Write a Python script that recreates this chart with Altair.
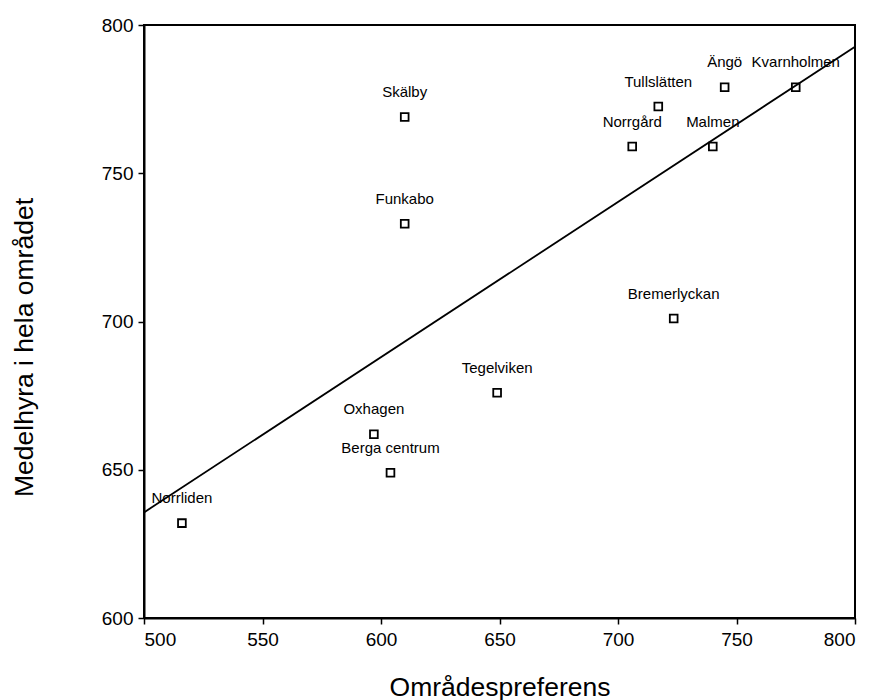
import altair as alt
import pandas as pd

names = ["Norrliden", "Oxhagen", "Berga centrum", "Tegelviken", "Funkabo", "Skälby",
         "Bremerlyckan", "Tullslätten", "Ängö", "Kvarnholmen", "Norrgård", "Malmen"]
preferens = [516, 597, 604, 649, 610, 610, 723.5, 717, 745, 775, 706, 740]
medelhyra = [632, 662, 649, 676, 733, 769, 701, 772.5, 779, 779, 759, 759]

df = pd.DataFrame({"name": names, "x": preferens, "y": medelhyra})

font = "Liberation Sans"

xs = alt.Scale(domain=[500, 800], nice=False, zero=False)
ys = alt.Scale(domain=[600, 800], nice=False, zero=False)

x_axis = alt.Axis(values=[500, 550, 600, 650, 700, 750, 800], grid=False,
                  domain=True, domainColor="black", domainWidth=2,
                  ticks=True, tickColor="black", tickWidth=1.5, tickSize=6,
                  labelFont=font, labelFontSize=19, labelColor="black", labelPadding=6,
                  title="Områdespreferens", titleFont=font, titleFontSize=26.5,
                  titleFontWeight="normal", titleColor="black",
                  titleBaseline="middle", titleY=69)
y_axis = alt.Axis(values=[600, 650, 700, 750, 800], grid=False,
                  domain=True, domainColor="black", domainWidth=2,
                  ticks=True, tickColor="black", tickWidth=1.5, tickSize=6,
                  labelFont=font, labelFontSize=19, labelColor="black", labelPadding=5,
                  title="Medelhyra i hela området", titleFont=font, titleFontSize=26.5,
                  titleFontWeight="normal", titleColor="black",
                  titleBaseline="middle", titleX=-120, titleY=322, titleAngle=270)

base = alt.Chart(df)

points = base.mark_point(shape="square", filled=False, stroke="black",
                         strokeWidth=1.8, size=60, opacity=1).encode(
    x=alt.X("x:Q", scale=xs, axis=x_axis),
    y=alt.Y("y:Q", scale=ys, axis=y_axis),
)

labels = base.mark_text(font=font, fontSize=15, color="black", dy=-20,
                        baseline="alphabetic", align="center").encode(
    x=alt.X("x:Q", scale=xs),
    y=alt.Y("y:Q", scale=ys),
    text="name:N",
)

line = base.transform_regression("x", "y", extent=[500, 800]).mark_line(
    color="black", strokeWidth=1.8).encode(
    x=alt.X("x:Q", scale=xs),
    y=alt.Y("y:Q", scale=ys),
)

chart = alt.layer(line, points, labels).properties(
    width=711, height=593,
    autosize=alt.AutoSizeParams(type="none"),
    padding={"left": 144, "top": 25, "right": 20, "bottom": 82},
    background="white",
).configure_view(stroke="black", strokeWidth=2)

chart.save("out.html", embed_options={"renderer": "svg", "actions": False})
